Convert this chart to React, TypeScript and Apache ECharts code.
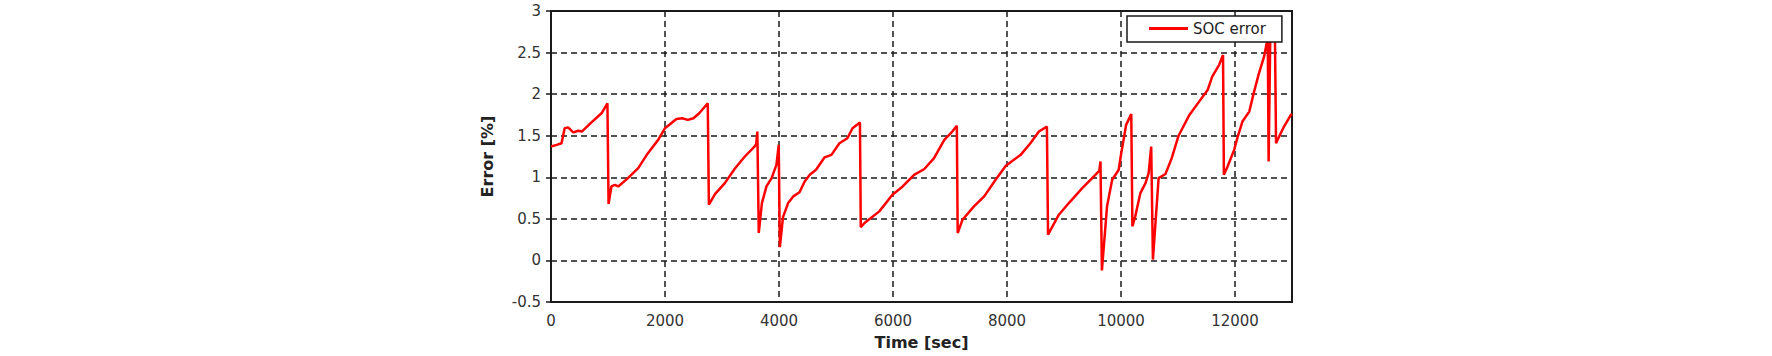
import React, { useEffect, useRef } from "react";
import * as echarts from "echarts";

const timeSec: number[] = [
  0, 100, 185, 240, 300, 390, 480, 540, 710, 886, 990, 1010, 1060, 1120, 1180, 1350, 1530, 1700, 1880, 2000,
  2200, 2300, 2400, 2500, 2600, 2750, 2770, 2880, 3050, 3220, 3400, 3570, 3600, 3620, 3645, 3700, 3780, 3870,
  3955, 3995, 4015, 4070, 4160, 4250, 4360, 4450, 4540, 4650, 4800, 4920, 5060, 5200, 5290, 5420, 5435, 5500,
  5760, 5990, 6170, 6370, 6550, 6720, 6900, 7040, 7120, 7135, 7220, 7420, 7600, 7800, 7980, 8240, 8410, 8560,
  8700, 8720, 8910, 9085, 9320, 9550, 9620, 9640, 9665, 9755, 9845, 9960, 9995, 10090, 10180, 10200, 10250,
  10340, 10430, 10485, 10530, 10560, 10660, 10780, 10890, 11010, 11200, 11370, 11520, 11600, 11720, 11790,
  11805, 11870, 11985, 12040, 12130, 12250, 12335, 12420, 12510, 12555, 12575, 12590, 12620, 12700, 12720,
  12775, 12860, 12980, 13000,
];

const socError: number[] = [
  1.37, 1.39, 1.41, 1.59, 1.6, 1.54, 1.56, 1.55, 1.66, 1.77, 1.89, 0.68, 0.89, 0.91, 0.89, 0.99, 1.11, 1.29, 1.45, 1.59,
  1.7, 1.71, 1.69, 1.71, 1.77, 1.89, 0.67, 0.8, 0.93, 1.1, 1.25, 1.37, 1.4, 1.55, 0.33, 0.69, 0.89, 0.99,
  1.15, 1.39, 0.16, 0.52, 0.69, 0.77, 0.82, 0.95, 1.03, 1.09, 1.24, 1.27, 1.41, 1.47, 1.59, 1.66, 0.4, 0.45,
  0.59, 0.79, 0.89, 1.03, 1.1, 1.23, 1.45, 1.55, 1.62, 0.33, 0.49, 0.65, 0.77, 0.97, 1.14, 1.27, 1.41, 1.55,
  1.61, 0.31, 0.55, 0.69, 0.87, 1.03, 1.08, 1.19, -0.12, 0.65, 0.97, 1.09, 1.25, 1.63, 1.76, 0.41, 0.53,
  0.81, 0.93, 1.05, 1.37, 0.01, 0.99, 1.04, 1.23, 1.5, 1.75, 1.91, 2.05, 2.21, 2.35, 2.47,
  1.03, 1.13, 1.33, 1.47, 1.67, 1.79, 2.03, 2.25, 2.45, 2.61, 2.65, 1.19, 2.75, 2.75, 1.41,
  1.49, 1.61, 1.75, 1.76,
];

const xTickLabels: string[] = ["0", "2000", "4000", "6000", "8000", "10000", "12000"];
const seriesName = "SOC error";
const xTitle = "Time [sec]";
const yTitle = "Error [%]";

export default function App() {
  const ref = useRef<HTMLDivElement>(null);
  useEffect(() => {
    if (!ref.current) return;
    const chart = echarts.init(ref.current, undefined, { renderer: "svg" });
    const font = "DejaVu Sans";
    const grid = { type: [6, 4] as any, color: "#1a1a1a", width: 1.5 };
    chart.setOption({
      animation: false,
      backgroundColor: "#ffffff",
      textStyle: { fontFamily: font },
      grid: {
        left: 551,
        right: 480,
        top: 11,
        bottom: 54,
        show: true,
        borderColor: "#1a1a1a",
        borderWidth: 2,
        backgroundColor: "transparent",
      },
      legend: {
        left: 1127,
        top: 16,
        data: [seriesName],
        icon: "rect",
        itemWidth: 39,
        itemHeight: 3,
        itemGap: 0,
        padding: [5, 16, 6, 22],
        backgroundColor: "#ffffff",
        borderColor: "#1a1a1a",
        borderWidth: 1.5,
        borderRadius: 0,
        textStyle: { fontFamily: font, fontSize: 15, color: "#222" },
      },
      xAxis: {
        type: "value",
        min: 0,
        max: 13000,
        interval: 2000,
        name: xTitle,
        nameLocation: "middle",
        nameGap: 32,
        nameTextStyle: { fontFamily: font, fontSize: 16, fontWeight: "bold", color: "#222" },
        axisLine: { show: true, onZero: false, lineStyle: { color: "#1a1a1a", width: 2 } },
        axisTick: { show: false },
        axisLabel: {
          fontFamily: font,
          fontSize: 15,
          color: "#333",
          margin: 11,
          formatter: (v: number) => (xTickLabels.includes(String(v)) ? String(v) : ""),
        },
        splitLine: { show: true, lineStyle: grid },
      },
      yAxis: {
        type: "value",
        min: -0.5,
        max: 3,
        interval: 0.5,
        name: yTitle,
        nameLocation: "middle",
        nameGap: 56,
        nameRotate: 90,
        nameTextStyle: { fontFamily: font, fontSize: 16, fontWeight: "bold", color: "#222" },
        axisLine: { show: true, onZero: false, lineStyle: { color: "#1a1a1a", width: 2 } },
        axisTick: { show: true, inside: false, length: 5, lineStyle: { color: "#1a1a1a", width: 1.5 } },
        axisLabel: { fontFamily: font, fontSize: 15, color: "#333", margin: 10 },
        splitLine: { show: true, lineStyle: grid },
      },
      series: [
        {
          name: seriesName,
          type: "line",
          data: timeSec.map((t, i) => [t, socError[i]]),
          symbol: "none",
          showSymbol: false,
          lineStyle: { color: "#ff0000", width: 2.5 },
          itemStyle: { color: "#ff0000" },
          clip: true,
        },
      ],
    });
    return () => chart.dispose();
  }, []);
  return (
    <div
      ref={ref}
      style={{ position: "fixed", left: 0, top: 0, width: 1772, height: 356, background: "#fff" }}
    />
  );
}
